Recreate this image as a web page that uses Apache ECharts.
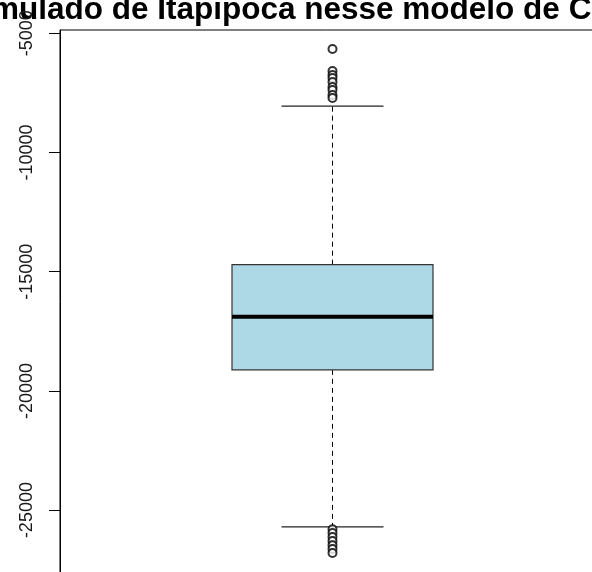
<!DOCTYPE html>
<html>
<head>
<meta charset="utf-8">
<script src="https://cdn.jsdelivr.net/npm/echarts@6/dist/echarts.min.js"></script>
<style>
  html, body { margin: 0; padding: 0; background: #fff; }
  #chart { width: 592px; height: 572px; }
</style>
</head>
<body>
<div id="chart"></div>
<script>
// Simulated result distribution (single boxplot)
const categories = ['Itapipoca'];
// [lower whisker, Q1, median, Q3, upper whisker]
const boxStats = [-25700, -19118, -16890, -14706, -8055];
const upperOutliers = [-5660, -6580, -6750, -6880, -7040, -7250, -7380, -7590, -7710];
const lowerOutliers = [-25800, -25965, -26130, -26300, -26470, -26635, -26800];
const tickValues = [-5000, -10000, -15000, -20000, -25000];
const titleText = 'mulado de Itapipoca nesse modelo de C';

const outlierData = upperOutliers.concat(lowerOutliers).map(v => [categories[0], v]);

const chart = echarts.init(document.getElementById('chart'), null, { renderer: 'canvas' });

const BOX_W = 201;
const CAP_W = 102;

chart.setOption({
  animation: false,
  backgroundColor: '#ffffff',
  graphic: [{
    type: 'text',
    left: -9,
    top: -6,
    style: {
      text: titleText,
      font: 'bold 31.5px "Liberation Sans", Arial, sans-serif',
      fill: '#000'
    }
  }],
  grid: {
    left: 60,
    top: 30,
    width: 545,
    height: 599.3,
    show: true,
    borderColor: '#000',
    borderWidth: 1,
    outerBoundsMode: 'none',
    containLabel: false
  },
  xAxis: {
    type: 'category',
    data: categories,
    show: false,
    boundaryGap: true
  },
  yAxis: {
    type: 'value',
    min: -30000,
    max: -4862,
    splitLine: { show: false },
    axisLine: { show: true, lineStyle: { color: '#000', width: 1 } },
    axisTick: {
      show: true,
      length: 11,
      customValues: tickValues,
      lineStyle: { color: '#000', width: 1 }
    },
    axisLabel: {
      customValues: tickValues,
      rotate: 90,
      margin: 24,
      formatter: v => String(v),
      fontFamily: '"Liberation Sans", Arial, sans-serif',
      fontSize: 18,
      color: '#1a1a1a'
    }
  },
  series: [
    {
      type: 'custom',
      data: [[0].concat(boxStats)],
      renderItem: function (params, api) {
        const x = api.coord([api.value(0), 0])[0];
        const yLo = api.coord([0, api.value(1)])[1];
        const yQ1 = api.coord([0, api.value(2)])[1];
        const yMed = api.coord([0, api.value(3)])[1];
        const yQ3 = api.coord([0, api.value(4)])[1];
        const yHi = api.coord([0, api.value(5)])[1];
        const dash = { stroke: '#000', lineWidth: 1, lineDash: [5, 4] };
        const solid = { stroke: '#222', lineWidth: 1.2 };
        return {
          type: 'group',
          children: [
            { type: 'line', shape: { x1: x, y1: yQ3, x2: x, y2: yHi }, style: dash },
            { type: 'line', shape: { x1: x, y1: yQ1, x2: x, y2: yLo }, style: dash },
            { type: 'line', shape: { x1: x - CAP_W / 2, y1: yHi, x2: x + CAP_W / 2, y2: yHi }, style: solid },
            { type: 'line', shape: { x1: x - CAP_W / 2, y1: yLo, x2: x + CAP_W / 2, y2: yLo }, style: solid },
            {
              type: 'rect',
              shape: { x: x - BOX_W / 2, y: yQ3, width: BOX_W, height: yQ1 - yQ3 },
              style: { fill: '#add8e6', stroke: '#333', lineWidth: 1.2 }
            },
            { type: 'line', shape: { x1: x - BOX_W / 2, y1: yMed, x2: x + BOX_W / 2, y2: yMed }, style: { stroke: '#000', lineWidth: 4 } }
          ]
        };
      },
      z: 2
    },
    {
      type: 'scatter',
      data: outlierData,
      symbol: 'emptyCircle',
      symbolSize: 8,
      itemStyle: { color: '#000', borderColor: '#000', borderWidth: 0.9 },
      z: 3
    }
  ]
});
</script>
</body>
</html>
